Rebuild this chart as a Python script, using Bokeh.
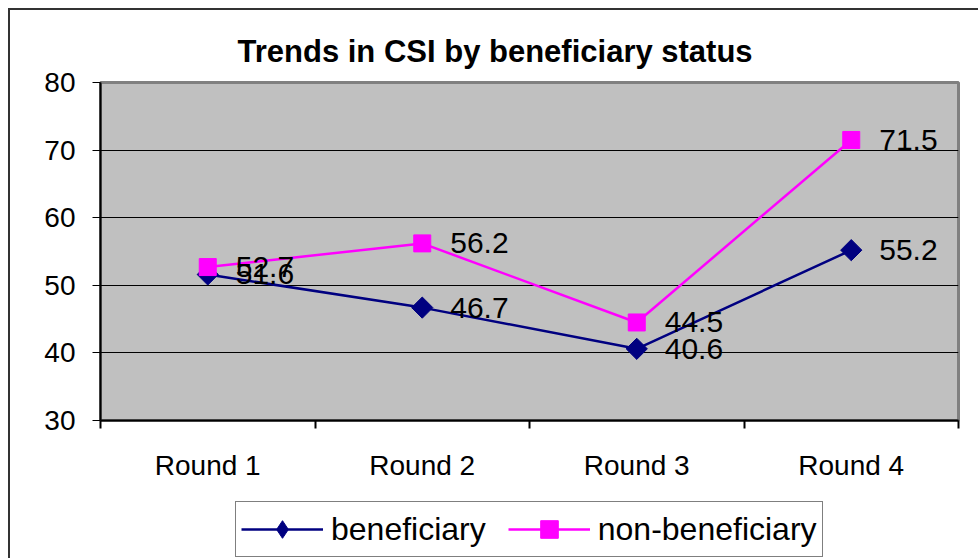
from bokeh.plotting import figure
from bokeh.layouts import column
from bokeh.models import (Range1d, FactorRange, FixedTicker, LinearAxis, CategoricalAxis,
                          ColumnDataSource, LabelSet, Legend, LegendItem)
from bokeh.core.properties import value
from bokeh.embed import file_html
from bokeh.resources import INLINE

# ---- data ----
rounds = ["Round 1", "Round 2", "Round 3", "Round 4"]
beneficiary = [51.6, 46.7, 40.6, 55.2]
non_beneficiary = [52.7, 56.2, 44.5, 71.5]
y_ticks = [30, 40, 50, 60, 70, 80]
series_names = ["beneficiary", "non-beneficiary"]
title_text = "Trends in CSI by beneficiary status"

FONT = "Liberation Sans"
NAVY = "#000080"
MAGENTA = "#FF00FF"
EDGE = "#333333"

grad = "linear-gradient(%s,%s)" % (EDGE, EDGE)

p = figure(width=978, height=495,
           x_range=FactorRange(factors=rounds), y_range=Range1d(y_ticks[0], y_ticks[-1]),
           x_axis_type=None,
           output_backend="svg", toolbar_location=None,
           min_border_left=100, min_border_right=20, min_border_top=82, min_border_bottom=75,
           background_fill_color="#C0C0C0", border_fill_alpha=0)
p.styles = {"background-color": "white",
            "background-image": grad + ", " + grad,
            "background-size": "2px calc(100% - 8px), calc(100% - 8px) 2px",
            "background-position": "8px 8px, 8px 8px",
            "background-repeat": "no-repeat"}

p.outline_line_color = "#808080"
p.outline_line_width = 3

# title
p.title.text = title_text
p.title.text_font = FONT
p.title.text_font_style = "bold"
p.title.text_font_size = "31px"
p.title.align = "left"
p.title.offset = 137
p.title.standoff = 27
p.title.text_color = "black"

# y axis
yax = p.yaxis[0]
yax.ticker = FixedTicker(ticks=y_ticks)
yax.major_tick_out = 8
yax.major_tick_in = 0
yax.minor_tick_line_color = None
yax.major_label_standoff = 17
yax.major_label_text_font = FONT
yax.major_label_text_font_size = "28px"
yax.major_label_text_color = "black"
yax.axis_line_color = "black"
yax.axis_line_width = 2
yax.major_tick_line_color = "black"

p.ygrid.ticker = FixedTicker(ticks=y_ticks)
p.ygrid.grid_line_color = "black"
p.ygrid.grid_line_width = 1
p.xgrid.visible = False

# x axis: tick marks at category boundaries (synthetic coords 0..n) + category labels
tick_axis = LinearAxis(ticker=FixedTicker(ticks=list(range(len(rounds) + 1))),
                       major_tick_out=8, major_tick_in=0, minor_tick_line_color=None,
                       major_tick_line_color="black", major_tick_line_width=2,
                       major_label_text_font_size="1px", major_label_text_color=None,
                       major_label_standoff=0,
                       axis_line_color="black", axis_line_width=2)
cat_axis = CategoricalAxis(major_tick_line_color=None, minor_tick_line_color=None,
                           axis_line_color=None, major_label_standoff=15,
                           major_label_text_font=FONT, major_label_text_font_size="28px",
                           major_label_text_color="black")
p.add_layout(tick_axis, "below")
p.add_layout(cat_axis, "below")

# series
src_b = ColumnDataSource(dict(x=rounds, y=beneficiary, t=[str(v) for v in beneficiary]))
src_n = ColumnDataSource(dict(x=rounds, y=non_beneficiary, t=[str(v) for v in non_beneficiary]))

p.line("x", "y", source=src_b, color=NAVY, line_width=2.5)
p.scatter("x", "y", source=src_b, marker="square", angle=0.7853981634, size=15, color=NAVY)
p.line("x", "y", source=src_n, color=MAGENTA, line_width=2.5)
p.scatter("x", "y", source=src_n, marker="square", size=17, color=MAGENTA)

for src in (src_b, src_n):
    p.add_layout(LabelSet(x="x", y="y", text="t", source=src, x_offset=28,
                          text_baseline="middle", text_align="left",
                          text_font=value(FONT), text_font_size=value("30px"),
                          text_color="black"))

# ---- legend strip (second figure under the chart; its frame aligns with the chart's) ----
q = figure(width=978, height=63, x_range=FactorRange(factors=rounds), y_range=Range1d(0, 1),
           x_axis_type=None, y_axis_type=None,
           output_backend="svg", toolbar_location=None,
           min_border_left=0, min_border_right=0, min_border_top=0, min_border_bottom=0,
           background_fill_alpha=0, border_fill_alpha=0)
q.outline_line_color = None
q.grid.visible = False
q.styles = {"background-color": "white",
            "background-image": grad,
            "background-size": "2px 100%",
            "background-position": "8px 0px",
            "background-repeat": "no-repeat"}

# same series, lying outside this strip's y range (not visible); they only feed the legend
klb = q.line("x", "y", source=src_b, color=NAVY, line_width=2.5)
ksb = q.scatter("x", "y", source=src_b, marker="diamond", size=22, color=NAVY)
kln = q.line("x", "y", source=src_n, color=MAGENTA, line_width=2.5)
ksn = q.scatter("x", "y", source=src_n, marker="square", size=17, color=MAGENTA)

legend = Legend(items=[LegendItem(label=series_names[0], renderers=[klb, ksb]),
                       LegendItem(label=series_names[1], renderers=[kln, ksn])],
                orientation="horizontal", location=(135, 1),
                glyph_width=82, glyph_height=44, label_standoff=8, spacing=22,
                padding=5, margin=0,
                label_text_font=FONT, label_text_font_size="32px", label_text_color="black",
                border_line_color="black", border_line_width=1,
                background_fill_color="white", background_fill_alpha=1)
q.add_layout(legend)

layout = column(p, q, spacing=0)
open("out.html", "w").write(file_html(layout, INLINE))
